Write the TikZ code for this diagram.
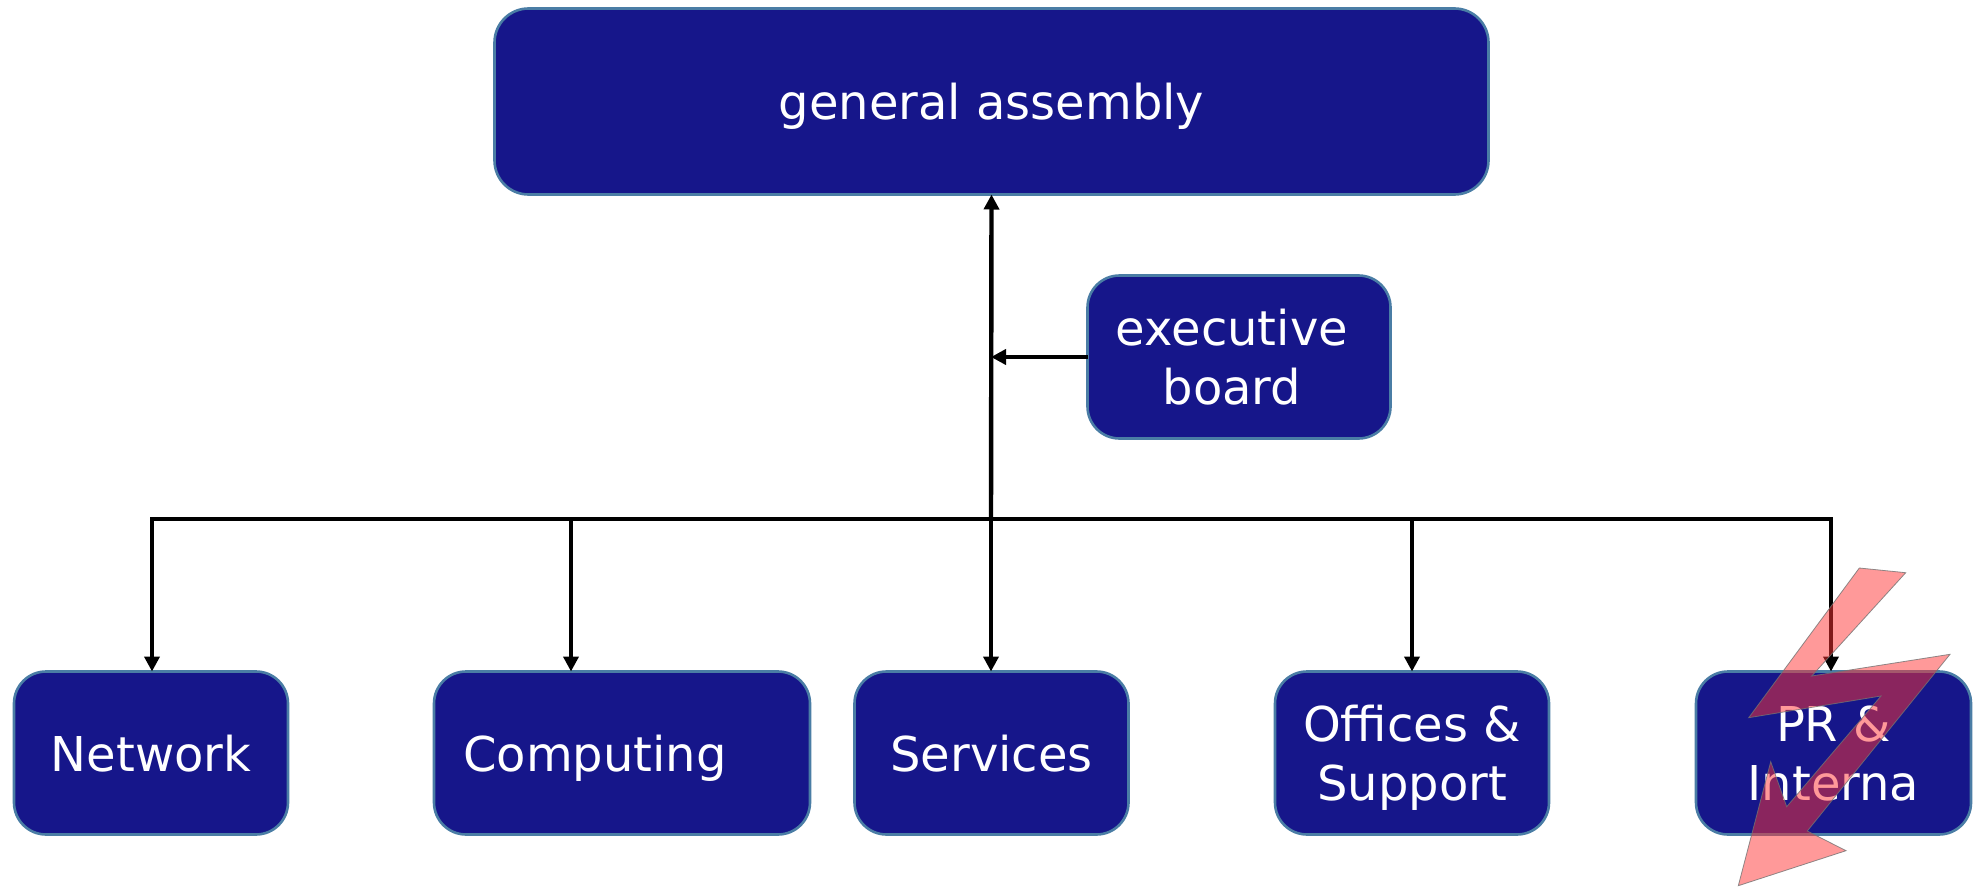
\documentclass[tikz,border=0pt]{standalone}
\usepackage{fontspec}
\setmainfont{DejaVu Sans}
\usetikzlibrary{arrows.meta}
\definecolor{boxfill}{HTML}{16168A}
\definecolor{boxline}{HTML}{4A7DA5}
\definecolor{boltfill}{HTML}{FF3434}
\tikzset{
	unitbox/.style={draw=boxline, fill=boxfill, text=white, line width=1.3pt, rounded corners=16pt, align=center, inner sep=0pt, outer sep=0pt,
		font=\fontsize{24}{29.5}\selectfont, text depth=-1.5pt, minimum height=81.5pt},
	link/.style={line width=2.2pt, -{Triangle[length=7.5pt,width=7.5pt]}}
}
\begin{document}
\begin{tikzpicture}[x=0.5pt, y=-0.5pt]
			\useasboundingbox (0,0) rectangle (1981,888);
			\node[unitbox, minimum width=497pt, minimum height=93pt, rounded corners=17pt] (assembly) at (991.5,101.5) {general assembly};
			\node[unitbox, minimum width=151.5pt] (board) at (1239,357) {executive\hspace*{7pt}\\board\hspace*{7pt}};
			\node[unitbox, minimum width=137pt] (network) at (151,753) {Network};
			\node[unitbox, minimum width=188pt] (computing) at (622,753) {Computing\hspace*{27pt}};
			\node[unitbox, minimum width=137pt] (services) at (991.5,753) {Services};
			\node[unitbox, minimum width=137pt] (offices) at (1412,753) {Offices \&\\Support};
			\node[unitbox, minimum width=137.5pt] (pr) at (1833.5,753) {PR \&\\Interna};

			\coordinate (trunk) at (991,519);
			\coordinate (busnetwork) at (152,519);
			\coordinate (buscomputing) at (571,519);
			\coordinate (busoffices) at (1412,519);
			\coordinate (buspr) at (1831,519);
			\coordinate (boardjoin) at (991,357);

			\draw[link] (trunk) -- (busnetwork) -- (busnetwork |- network.north);
			\draw[link] (trunk) -- (buspr) -- (buspr |- pr.north);
			\draw[link] (trunk) -- (assembly.south);
			\draw[link] (trunk) -- (trunk |- services.north);
			\draw[link] (board.west) -- (boardjoin);
			\draw[link] (buscomputing) -- (buscomputing |- computing.north);
			\draw[link] (busoffices) -- (offices.north);

			\draw[draw=black!55, line width=0.4pt, fill=boltfill, fill opacity=0.5, draw opacity=0.8]
			(1859.3,568) -- (1905.7,572.7) -- (1811.7,676) -- (1950,654.3) -- (1807.3,831) -- (1846,850.7)
			-- (1738.3,885.7) -- (1770.7,761.7) -- (1786.7,806.7) -- (1881,696) -- (1748.7,717.7) -- cycle;
		\end{tikzpicture}
\end{document}
